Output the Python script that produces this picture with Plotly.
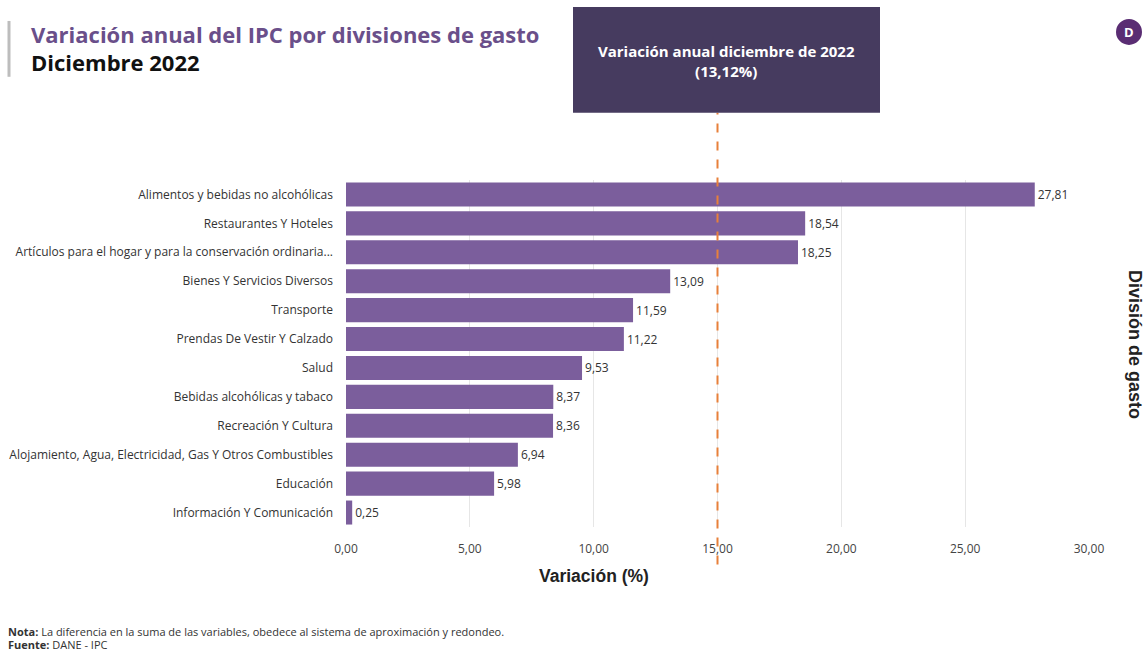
import plotly.graph_objects as go

categories = [
    "Alimentos y bebidas no alcohólicas",
    "Restaurantes Y Hoteles",
    "Artículos para el hogar y para la conservación ordinaria...",
    "Bienes Y Servicios Diversos",
    "Transporte",
    "Prendas De Vestir Y Calzado",
    "Salud",
    "Bebidas alcohólicas y tabaco",
    "Recreación Y Cultura",
    "Alojamiento, Agua, Electricidad, Gas Y Otros Combustibles",
    "Educación",
    "Información Y Comunicación",
]
values = [27.81, 18.54, 18.25, 13.09, 11.59, 11.22, 9.53, 8.37, 8.36, 6.94, 5.98, 0.25]
x_ticks = [0, 5, 10, 15, 20, 25, 30]
ref_line_x = 15
annual_label = "Variación anual diciembre de 2022<br>(13,12%)"

W, H = 1145, 651
L, R = 346, 1089
T, B = 179.5, 527.5


def px(x):
    return (x - L) / (R - L)


def py(y):
    return (B - y) / (B - T)


fig = go.Figure()
fig.add_trace(go.Bar(
    y=categories,
    x=values,
    orientation="h",
    marker=dict(color="#7b5e9c", line=dict(width=0)),
    text=[f"{v:.2f}".replace(".", ",") for v in values],
    textposition="outside",
    textfont=dict(family="Open Sans", size=12, color="#333333"),
    cliponaxis=False,
    hoverinfo="skip",
))

fig.update_layout(
    width=W, height=H,
    margin=dict(l=L, r=W - R, t=T, b=H - B, autoexpand=False),
    plot_bgcolor="white",
    paper_bgcolor="white",
    showlegend=False,
    bargap=0.17,
    separators=",.",
    font=dict(family="Open Sans", color="#333333"),
    xaxis=dict(
        range=[0, 30],
        tickvals=x_ticks,
        ticktext=[f"{t:.2f}".replace(".", ",") for t in x_ticks],
        showgrid=True, gridcolor="#e6e6e6", gridwidth=1,
        zeroline=False, showline=False,
        tickfont=dict(family="Open Sans", size=12, color="#444444"),
        ticklabelstandoff=13,
    ),
    yaxis=dict(
        autorange="reversed",
        showgrid=False, zeroline=False, showline=False,
        tickfont=dict(family="Open Sans", size=12, color="#333333"),
        ticklabelstandoff=12,
    ),
)


def note(x, y, text, font, xanchor="center", **kw):
    fig.add_annotation(xref="paper", yref="paper", x=px(x), y=py(y),
                       xanchor=xanchor, yanchor="middle", showarrow=False,
                       text=text, font=font, **kw)


# dashed reference line
fig.add_shape(type="line", xref="x", yref="paper",
              x0=ref_line_x, x1=ref_line_x, y0=py(565), y1=py(112),
              line=dict(color="#e8803a", width=2, dash="dash"))

# annotation box
fig.add_shape(type="rect", xref="paper", yref="paper",
              x0=px(573), x1=px(880), y0=py(112), y1=py(6),
              fillcolor="#463b5f", line=dict(color="#463b5f", width=0))
note(726.5, 60, f"<b>{annual_label}</b>",
     dict(family="Open Sans", size=15, color="white"), align="center")

# x axis title (offset to the left, as in the original)
note(594, 577, "<b>Variación (%)</b>",
     dict(family="Liberation Sans", size=17.5, color="#222222"))

# title block
fig.add_shape(type="line", xref="paper", yref="paper",
              x0=px(9), x1=px(9), y0=py(20), y1=py(76),
              line=dict(color="#bdbdbd", width=3))
note(29, 33, "<b>Variación anual del IPC por divisiones de gasto</b>",
     dict(family="Open Sans", size=22, color="#6a4f8a"), xanchor="left")
note(29, 61, "<b>Diciembre 2022</b>",
     dict(family="Open Sans", size=22, color="#111111"), xanchor="left")

# right axis label
note(1135, 344, "<b>División de gasto</b>",
     dict(family="Liberation Sans", size=18, color="#222222"), textangle=90)

# logo
fig.add_shape(type="circle", xref="paper", yref="paper",
              x0=px(1116), x1=px(1142), y0=py(44), y1=py(18),
              fillcolor="#5a2d73", line=dict(width=0))
note(1129, 31, "<b>D</b>", dict(family="Open Sans", size=13, color="white"))

# footer
note(6, 632, "<b>Nota:</b> La diferencia en la suma de las variables, obedece al sistema de aproximación y redondeo.",
     dict(family="Open Sans", size=11, color="#333333"), xanchor="left")
note(6, 645, "<b>Fuente:</b> DANE - IPC",
     dict(family="Open Sans", size=11, color="#333333"), xanchor="left")

fig.write_html(
    "out.html",
    config={"displayModeBar": False},
    post_script="document.body.style.margin='0';document.body.style.padding='0';document.body.style.overflow='hidden';",
)
